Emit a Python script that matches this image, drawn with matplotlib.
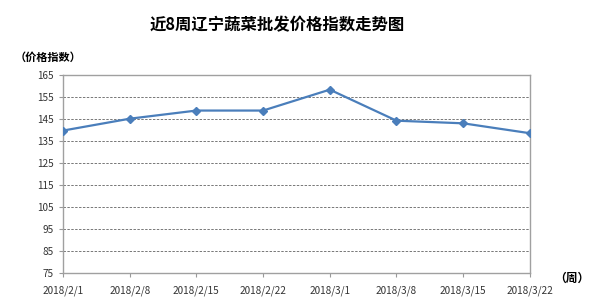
import matplotlib
matplotlib.use('Agg')
import matplotlib.pyplot as plt

plt.rcParams['font.family'] = ['Noto Sans CJK SC', 'DejaVu Sans']

weeks = ['2018/2/1', '2018/2/8', '2018/2/15', '2018/2/22',
         '2018/3/1', '2018/3/8', '2018/3/15', '2018/3/22']
index_values = [139.7, 145.1, 148.8, 148.8, 158.3, 144.2, 143.0, 138.5]
y_ticks = [75, 85, 95, 105, 115, 125, 135, 145, 155, 165]

fig = plt.figure(figsize=(5.91, 3.02), dpi=100)
ax = fig.add_axes([0.1066, 0.096, 0.79, 0.656])

x = range(len(weeks))
ax.plot(x, index_values, color='#4a7ebb', lw=1.6, marker='D', ms=4.5, zorder=3)

ax.set_xlim(0, len(weeks) - 1)
ax.set_ylim(75, 165)
ax.set_yticks(y_ticks)
ax.set_xticks(list(x))
ax.set_xticklabels(weeks)
ax.tick_params(labelsize=7.2, colors='#333333', length=3, color='#999999')
ax.tick_params(axis='x', pad=6)

# dashed grid lines between the bottom and top border
for v in y_ticks[1:-1]:
    ax.axhline(v, color='#777777', lw=0.7, ls=(0, (2.5, 1.5)), zorder=1)
for s in ax.spines.values():
    s.set_color('#a0a0a0')
    s.set_linewidth(1)

fig.text(0.469, 0.915, '近8周辽宁蔬菜批发价格指数走势图', ha='center', va='center',
         fontsize=11.8, fontweight='bold')
fig.text(0.025, 0.81, '（价格指数）', ha='left', va='center', fontsize=8, fontweight='bold')
fig.text(0.937, 0.078, '（周）', ha='left', va='center', fontsize=8.5, fontweight='bold')

fig.savefig('out.png', dpi=100)
